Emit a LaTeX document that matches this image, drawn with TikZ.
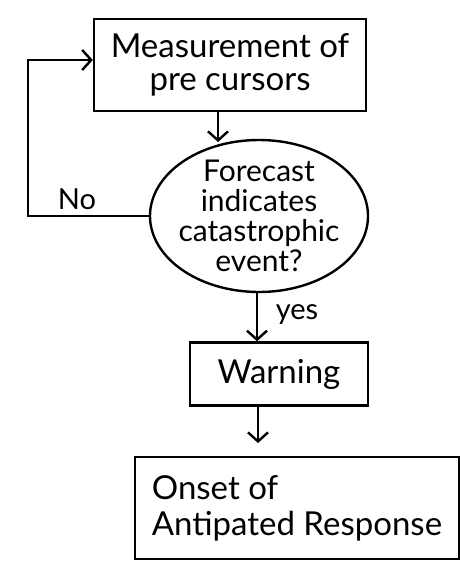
\documentclass[tikz,border=0pt]{standalone}
\usepackage{fontspec}
\setmainfont{Lato}
\usetikzlibrary{shapes.geometric,arrows.meta}
\begin{document}
\begin{tikzpicture}[x=1pt,y=-1pt,
  ink/.style={line width=2.4pt,black},
  stepbox/.style={ink,draw,rectangle,inner sep=0pt,align=center,
    font=\fontsize{33}{33}\selectfont},
  decision/.style={ink,draw,ellipse,inner sep=-10pt,align=center,
    font=\fontsize{30}{30}\selectfont},
  flow/.style={ink,-{Straight Barb[length=9pt,width=20pt,line width=2.4pt]}},
  tag/.style={font=\fontsize{29}{30}\selectfont}]
\useasboundingbox (0,0) rectangle (460,562);
\fill[white] (0,0) rectangle (460,562);

\node[stepbox,minimum width=272,minimum height=92] (meas) at (230,65)
  {Measurement of\\pre cursors};
\node[decision,minimum width=218,minimum height=152] (fc) at (259,216)
  {Forecast\\indicates\\catastrophic\\event?};
\node[stepbox,minimum width=178,minimum height=63] (warn) at (279,374)
  {Warning};
\node[stepbox,minimum width=324,minimum height=102,align=left] (onset) at (297,508)
  {Onset of\\[3pt]Antipated Response};

\coordinate (loop) at (28,60);
\coordinate (stop) at (258,443);

% measurement -> forecast
\draw[flow] (meas.south -| 218,0) -- (218,142);
% no: back to the measurement box
\draw[flow] (fc.west) -- (fc.west -| loop) -- (loop) -- (loop -| meas.west);
% yes: on to the warning
\draw[flow] (fc.south -| 257,0) -- (warn.north -| 257,0);
% warning -> response
\draw[flow] (warn.south -| stop) -- (stop);

\node[tag] (no) at (77,199) {No};
\node[tag] (yes) at (297,315) {yes};
\end{tikzpicture}
\end{document}
